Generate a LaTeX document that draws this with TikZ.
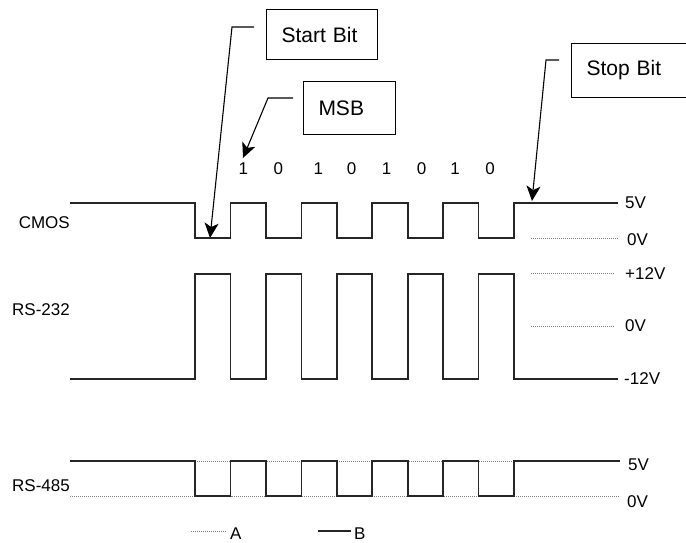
\documentclass[tikz,border=0pt]{standalone}
\usepackage{fontspec}
\setmainfont{Liberation Sans}
\usetikzlibrary{arrows.meta}
\begin{document}
\begin{tikzpicture}[x=1pt,y=-1pt,
  wave/.style={line width=1.3pt, line join=miter, draw=black!85},
  guide/.style={draw=black!50, line width=0.8pt, dash pattern=on 1pt off 1pt},
  lbl/.style={font=\fontsize{17}{19}\selectfont, inner sep=0pt},
  callbox/.style={draw, line width=1pt, font=\fontsize{21}{24}\selectfont, align=left, inner xsep=15pt, inner ysep=0pt, anchor=north west},
  callout/.style={line width=1.1pt, -{Stealth[length=15pt,width=14pt,inset=4pt]}}
]
\useasboundingbox (0,0) rectangle (686,542);

% callout boxes
\node[callbox, text width=81pt, minimum height=50pt] (start) at (266,9) {Start Bit};
\node[callbox, text width=62pt, minimum height=53pt] (msb) at (303,81) {MSB};
\node[callbox, text width=90pt, minimum height=54pt] (stop) at (571,43) {Stop Bit};

% callout connectors
\coordinate (s1) at (254,27); \coordinate (s2) at (232,27); \coordinate (s3) at (210,238);
\coordinate (m1) at (293,98); \coordinate (m2) at (268,98); \coordinate (m3) at (243,158);
\coordinate (p1) at (559,60); \coordinate (p2) at (546,60); \coordinate (p3) at (532,201);
\draw[callout] (s1) -- (s2) -- (s3);
\draw[callout] (m1) -- (m2) -- (m3);
\draw[callout] (p1) -- (p2) -- (p3);

% bit values
\foreach \x/\b [count=\i] in {243.3/1,278.3/0,318.3/1,351.7/0,386.7/1,421.7/0,455/1,490/0}
  \node[lbl] (bit\i) at (\x,169) {\b};

% CMOS
\draw[wave] (70,203) -- (195,203) -- (195,238) -- (230.5,238) -- (230.5,203) -- (266,203) -- (266,238) -- (301.5,238) -- (301.5,203) -- (337,203) -- (337,238) -- (372,238) -- (372,203) -- (408,203) -- (408,238) -- (443,238) -- (443,203) -- (478.5,203) -- (478.5,238) -- (514,238) -- (514,203) -- (618,203);
\draw[guide] (531,238) -- (618,238);

% RS-232
\draw[wave] (70,379) -- (195,379) -- (195,274) -- (230.5,274) -- (230.5,379) -- (266,379) -- (266,274) -- (301.5,274) -- (301.5,379) -- (337,379) -- (337,274) -- (372,274) -- (372,379) -- (408,379) -- (408,274) -- (443,274) -- (443,379) -- (478.5,379) -- (478.5,274) -- (514,274) -- (514,379) -- (618,379);
\draw[guide] (531,273) -- (615,273);
\draw[guide] (531,326) -- (615,326);

% RS-485 A (dotted) and B (solid)
\draw[guide] (70,496) -- (195,496) -- (195,461) -- (230.5,461) -- (230.5,496) -- (266,496) -- (266,461) -- (301.5,461) -- (301.5,496) -- (337,496) -- (337,461) -- (372,461) -- (372,496) -- (408,496) -- (408,461) -- (443,461) -- (443,496) -- (478.5,496) -- (478.5,461) -- (514,461) -- (514,496) -- (620,496);
\draw[wave] (70,461) -- (195,461) -- (195,496) -- (230.5,496) -- (230.5,461) -- (266,461) -- (266,496) -- (301.5,496) -- (301.5,461) -- (337,461) -- (337,496) -- (372,496) -- (372,461) -- (408,461) -- (408,496) -- (443,496) -- (443,461) -- (478.5,461) -- (478.5,496) -- (514,496) -- (514,461) -- (620,461);

% signal names
\node[lbl, anchor=east] (cmos) at (70,223) {CMOS};
\node[lbl, anchor=east] (rs232) at (70,310) {RS-232};
\node[lbl, anchor=east] (rs485) at (70,486) {RS-485};

% voltage labels
\node[lbl, anchor=west] (v1) at (625,203) {5V};
\node[lbl, anchor=west] (v2) at (627,240) {0V};
\node[lbl, anchor=west] (v3) at (625,274) {+12V};
\node[lbl, anchor=west] (v4) at (625,326) {0V};
\node[lbl, anchor=west] (v5) at (624,379) {-12V};
\node[lbl, anchor=west] (v6) at (628,465) {5V};
\node[lbl, anchor=west] (v7) at (627,502) {0V};

% legend
\coordinate (la1) at (191,531); \coordinate (la2) at (226,531);
\coordinate (lb1) at (318,531); \coordinate (lb2) at (351,531);
\draw[guide] (la1) -- (la2);
\draw[wave] (lb1) -- (lb2);
\node[lbl, anchor=west] (legA) at (230,534) {A};
\node[lbl, anchor=west] (legB) at (354,534) {B};
\end{tikzpicture}
\end{document}
